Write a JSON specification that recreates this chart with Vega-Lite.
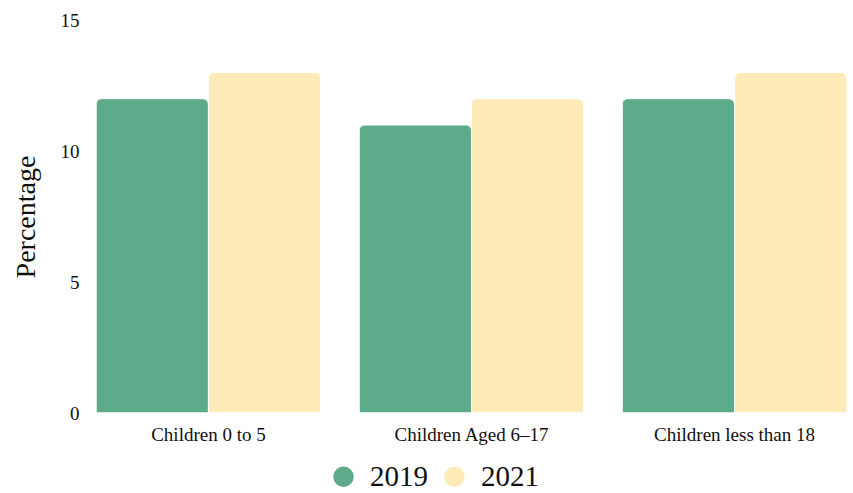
{
  "$schema": "https://vega.github.io/schema/vega-lite/v6.json",
  "width": 751,
  "height": 393,
  "padding": {"left": 12, "top": 11, "right": 0, "bottom": 0},
  "data": {"values": [
    {"group": "Children 0 to 5", "year": "2019", "value": 12},
    {"group": "Children 0 to 5", "year": "2021", "value": 13},
    {"group": "Children Aged 6–17", "year": "2019", "value": 11},
    {"group": "Children Aged 6–17", "year": "2021", "value": 12},
    {"group": "Children less than 18", "year": "2019", "value": 12},
    {"group": "Children less than 18", "year": "2021", "value": 13}
  ]},
  "config": {
    "view": {"stroke": null},
    "font": "Liberation Serif",
    "axis": {"labelFont": "Liberation Serif", "titleFont": "Liberation Serif"},
    "legend": {"labelFont": "Liberation Serif"}
  },
  "mark": {"type": "bar", "cornerRadiusTopLeft": 6, "cornerRadiusTopRight": 6, "stroke": "white", "strokeWidth": 1},
  "encoding": {
    "x": {
      "field": "group", "type": "nominal", "sort": null,
      "scale": {"paddingInner": 0.145, "paddingOuter": 0},
      "axis": {"title": null, "labelAngle": 0, "labelFontSize": 19, "labelColor": "#111", "domain": false, "ticks": false, "labelPadding": 12}
    },
    "xOffset": {"field": "year", "type": "nominal", "scale": {"paddingInner": 0, "paddingOuter": 0}},
    "y": {
      "field": "value", "type": "quantitative",
      "scale": {"domain": [0, 15]},
      "axis": {"title": "Percentage", "titleFontSize": 28, "titleFontWeight": "normal", "titleColor": "#111", "titlePadding": 20, "values": [0, 5, 10, 15], "labelFontSize": 19, "labelColor": "#111", "domain": false, "ticks": false, "grid": false, "labelPadding": 17}
    },
    "color": {
      "field": "year", "type": "nominal",
      "scale": {"range": ["#5eab8b", "#ffebb7"]},
      "legend": {"title": null, "orient": "none", "legendX": 233, "legendY": 442, "direction": "horizontal", "symbolType": "circle", "symbolSize": 420, "symbolStrokeWidth": 0, "labelFontSize": 29, "labelColor": "#111", "columnPadding": 12, "labelOffset": 12}
    }
  }
}
